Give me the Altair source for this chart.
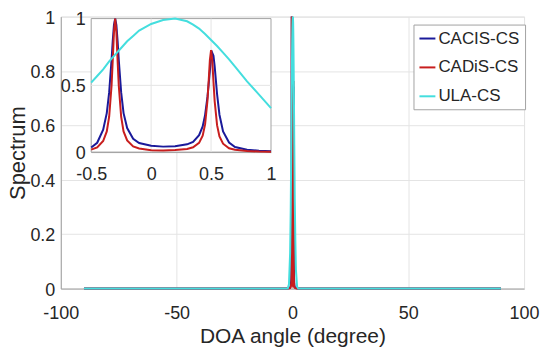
import altair as alt
import pandas as pd

# ---------------- data ----------------
series_names = ["CACIS-CS", "CADiS-CS", "ULA-CS"]
series_colors = ["#1a1a9a", "#c81e1e", "#44dede"]

# zoomed region (-0.5 .. 1 degree) for CACIS-CS / CADiS-CS
x_zoom = [-0.5, -0.45, -0.4, -0.37, -0.35, -0.33, -0.32, -0.31, -0.30, -0.29,
          -0.28, -0.27, -0.25, -0.23, -0.2, -0.15, -0.1, 0.0, 0.1, 0.2,
          0.3, 0.35, 0.4, 0.43, 0.45, 0.47, 0.48, 0.49, 0.50, 0.51,
          0.52, 0.53, 0.55, 0.57, 0.6, 0.65, 0.7, 0.8, 0.9, 1.0]
cacis_zoom = [0.035, 0.07, 0.168, 0.292, 0.447, 0.692, 0.835, 0.953, 1.0, 0.953,
              0.835, 0.692, 0.447, 0.292, 0.18, 0.10, 0.068, 0.048, 0.041, 0.043,
              0.058, 0.077, 0.127, 0.192, 0.277, 0.413, 0.51, 0.61, 0.70, 0.743,
              0.722, 0.642, 0.435, 0.28, 0.155, 0.072, 0.038, 0.018, 0.010, 0.006]
cadis_zoom = [0.018, 0.035, 0.083, 0.155, 0.265, 0.5, 0.692, 0.90, 1.0, 0.90,
              0.692, 0.5, 0.265, 0.155, 0.088, 0.043, 0.027, 0.014, 0.012, 0.016,
              0.024, 0.036, 0.069, 0.123, 0.207, 0.387, 0.533, 0.69, 0.763, 0.687,
              0.528, 0.382, 0.202, 0.118, 0.063, 0.029, 0.017, 0.008, 0.004, 0.003]

# zoomed region for ULA-CS
x_zoom_ula = [-0.5, -0.45, -0.4, -0.35, -0.3, -0.25, -0.2, -0.15, -0.1, 0.0,
              0.1, 0.2, 0.3, 0.35, 0.4, 0.45, 0.5, 0.55, 0.6, 0.65,
              0.7, 0.8, 0.9, 1.0]
ula_zoom = [0.52, 0.57, 0.62, 0.68, 0.73, 0.78, 0.83, 0.87, 0.91, 0.96,
            0.99, 1.0, 0.98, 0.955, 0.925, 0.885, 0.84, 0.795, 0.745, 0.695,
            0.64, 0.53, 0.43, 0.33]

# full scan outside the zoomed region
x_left = [-90, -10, -3, -2.5, -2, -1.5, -1, -0.75]
x_right = [1.25, 1.5, 2, 2.5, 3, 10, 90]
cacis_left = [0, 0, 0, 0, 0.001, 0.001, 0.004, 0.01]
cacis_right = [0.003, 0.002, 0.001, 0, 0, 0, 0]
cadis_left = [0, 0, 0, 0, 0, 0.001, 0.002, 0.005]
cadis_right = [0.002, 0.001, 0, 0, 0, 0, 0]
ula_left = [0, 0, 0, 0.0003, 0.001, 0.016, 0.13, 0.28]
ula_right = [0.18, 0.07, 0.007, 0.0003, 0, 0, 0]

main_x_ticks = [-100, -50, 0, 50, 100]
main_y_ticks = [0, 0.2, 0.4, 0.6, 0.8, 1]
zoom_x_ticks = [-0.5, 0, 0.5, 1]
zoom_y_ticks = [0, 0.5, 1]

# ---------------- tables ----------------
def table(name, xs, ys):
    df = pd.DataFrame({"x": xs, "y": ys})
    df["series"] = name
    df["k"] = range(len(df))
    return df

main_tables = [
    table(series_names[0], x_left + x_zoom + x_right, cacis_left + cacis_zoom + cacis_right),
    table(series_names[1], x_left + x_zoom + x_right, cadis_left + cadis_zoom + cadis_right),
    table(series_names[2], x_left + x_zoom_ula + x_right, ula_left + ula_zoom + ula_right),
]
zoom_tables = [
    table(series_names[0], x_zoom, cacis_zoom),
    table(series_names[1], x_zoom, cadis_zoom),
    table(series_names[2], x_zoom_ula, ula_zoom),
]

box_df = pd.DataFrame({"x1": [zoom_x_ticks[0]], "x2": [zoom_x_ticks[-1]],
                       "y1": [zoom_y_ticks[0]], "y2": [zoom_y_ticks[-1]]})
grid_rows = [{"x1": v, "x2": v, "y1": zoom_y_ticks[0], "y2": zoom_y_ticks[-1]} for v in zoom_x_ticks[1:-1]]
grid_rows += [{"x1": zoom_x_ticks[0], "x2": zoom_x_ticks[-1], "y1": v, "y2": v} for v in zoom_y_ticks[1:-1]]
grid_df = pd.DataFrame(grid_rows)

# ---------------- styling ----------------
W, H = 465, 273
FONT = "Liberation Sans"
GRID = "#e4e4e4"
AXC = "#a3a3a3"
TXT = "#262626"

color_scale = alt.Scale(domain=series_names, range=series_colors)
legend = alt.Legend(title=None, orient="none", legendX=354, legendY=8,
                    symbolType="stroke", symbolSize=256, symbolStrokeWidth=2,
                    labelFont=FONT, labelFontSize=17, labelColor=TXT,
                    labelOffset=2, rowPadding=12, padding=5,
                    strokeColor=AXC, fillColor="white")

main_x = dict(scale=alt.Scale(domain=[-100, 100], nice=False, zero=False),
              axis=alt.Axis(values=main_x_ticks, labelExpr="'' + datum.value",
                            title="DOA angle (degree)", titleFont=FONT, titleFontSize=21,
                            titleFontWeight="normal", titleColor=TXT, titlePadding=3,
                            labelFont=FONT, labelFontSize=18, labelColor=TXT,
                            labelPadding=16, ticks=False, grid=True, gridColor=GRID,
                            domainColor=AXC, labelFlush=False, zindex=0))
main_y = dict(scale=alt.Scale(domain=[0, 1], nice=False),
              axis=alt.Axis(values=main_y_ticks, labelExpr="'' + datum.value",
                            title="Spectrum", titleFont=FONT, titleFontSize=22,
                            titleFontWeight="normal", titleColor=TXT, titlePadding=0,
                            labelFont=FONT, labelFontSize=18, labelColor=TXT,
                            labelPadding=6, labelOffset=1.5, ticks=False, grid=True,
                            gridColor=GRID, domainColor=AXC, labelFlush=False, zindex=0))

main_layers = [
    alt.Chart(df).mark_line(strokeWidth=2).encode(
        x=alt.X("x:Q", **main_x),
        y=alt.Y("y:Q", **main_y),
        color=alt.Color("series:N", scale=color_scale, legend=legend),
        order="k:Q",
    )
    for df in main_tables
]
main = alt.layer(*main_layers)

zx_scale = alt.Scale(domain=[zoom_x_ticks[0], zoom_x_ticks[-1]], range=[30.5, 211], nice=False, zero=False)
zy_scale = alt.Scale(domain=[zoom_y_ticks[0], zoom_y_ticks[-1]], range=[136, 2], nice=False, zero=False)
zx_axis = alt.Axis(values=zoom_x_ticks, labelExpr="'' + datum.value", orient="bottom",
                   offset=-(H - 136), title=None, labelFont=FONT, labelFontSize=18,
                   labelColor=TXT, labelPadding=14, ticks=False, grid=False,
                   domainColor=AXC, labelFlush=False)
zy_axis = alt.Axis(values=zoom_y_ticks, labelExpr="'' + datum.value", orient="left",
                   offset=-30.5, title=None, labelFont=FONT, labelFontSize=18,
                   labelColor=TXT, labelPadding=6, labelOffset=1, ticks=False, grid=False,
                   domainColor=AXC, labelFlush=False)

box = alt.Chart(box_df).mark_rect(fill="white", stroke=AXC, strokeWidth=1).encode(
    x=alt.X("x1:Q", scale=zx_scale, axis=zx_axis), x2="x2:Q",
    y=alt.Y("y1:Q", scale=zy_scale, axis=zy_axis), y2="y2:Q",
)
grid = alt.Chart(grid_df).mark_rule(color=GRID, strokeWidth=1).encode(
    x=alt.X("x1:Q", scale=zx_scale, axis=zx_axis), x2="x2:Q",
    y=alt.Y("y1:Q", scale=zy_scale, axis=zy_axis), y2="y2:Q",
)
zoom_layers = [
    alt.Chart(df).mark_line(strokeWidth=2).encode(
        x=alt.X("x:Q", scale=zx_scale, axis=zx_axis),
        y=alt.Y("y:Q", scale=zy_scale, axis=zy_axis),
        color=alt.Color("series:N", scale=color_scale, legend=legend),
        order="k:Q",
    )
    for df in zoom_tables
]
inset = alt.layer(box, grid, *zoom_layers)

chart = alt.layer(main, inset).resolve_scale(x="independent", y="independent").properties(
    width=W, height=H,
    autosize=alt.AutoSizeParams(type="none"),
    padding={"left": 53, "top": 8, "right": 16, "bottom": 58},
).configure_view(stroke=AXC, strokeWidth=1).configure(background="white")

chart.save("out.html", embed_options={"renderer": "svg", "actions": False})
